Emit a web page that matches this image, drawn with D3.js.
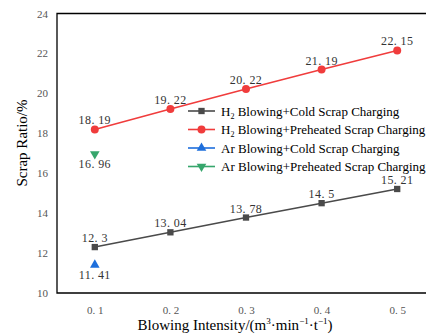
<!DOCTYPE html>
<html>
<head>
<meta charset="utf-8">
<script src="https://cdn.jsdelivr.net/npm/d3@7"></script>
<style>
  body { margin: 0; background: #fff; }
  svg { display: block; }
</style>
</head>
<body>
<div id="chart"></div>
<script>
// data
const intensity = [0.1, 0.2, 0.3, 0.4, 0.5];
const h2Cold = [12.3, 13.04, 13.78, 14.5, 15.21];
const h2Hot = [18.19, 19.22, 20.22, 21.19, 22.15];
const arCold = [11.41];
const arHot = [16.96];
const yTicks = [10, 12, 14, 16, 18, 20, 22, 24];
const xTickLabels = ["0. 1", "0. 2", "0. 3", "0. 4", "0. 5"];

const serif = "'Liberation Serif', 'DejaVu Serif', serif";
const width = 426, height = 336;

const svg = d3.select("#chart").append("svg")
  .attr("width", width)
  .attr("height", height)
  .attr("font-family", serif);

const x = d3.scaleLinear().domain([0.05, 0.55]).range([57, 435]);
const y = d3.scaleLinear().domain([10, 24]).range([293, 13.5]);

// frame: left, bottom, top (right side runs off the picture)
svg.append("path")
  .attr("d", `M${x(0.55)},${y(24)}H${x(0.05)}V${y(10)}H${x(0.55)}`)
  .attr("fill", "none")
  .attr("stroke", "#000")
  .attr("stroke-width", 1.3);

// y ticks
svg.append("g")
  .attr("transform", `translate(${x(0.05)},0)`)
  .call(d3.axisLeft(y).tickValues(yTicks).tickSize(0).tickPadding(9).tickFormat(d3.format("d")))
  .call(g => g.select(".domain").remove())
  .call(g => g.attr("font-family", serif).attr("font-size", 11))
  .call(g => g.selectAll("text").attr("fill", "#555"));

// x ticks
svg.append("g")
  .attr("transform", `translate(0,${y(10)})`)
  .call(d3.axisBottom(x).tickValues(intensity).tickSize(0).tickPadding(13)
    .tickFormat((d, i) => xTickLabels[i]))
  .call(g => g.select(".domain").remove())
  .call(g => g.attr("font-family", serif).attr("font-size", 11))
  .call(g => g.selectAll("text").attr("fill", "#555"));

// axis titles
svg.append("text")
  .attr("transform", `translate(27,143) rotate(-90)`)
  .attr("text-anchor", "middle")
  .attr("font-size", 15)
  .text("Scrap Ratio/%");

const xt = svg.append("text")
  .attr("x", 235)
  .attr("y", 330)
  .attr("text-anchor", "middle")
  .attr("font-size", 15);
xt.append("tspan").text("Blowing Intensity/(m");
xt.append("tspan").attr("dy", -6).attr("font-size", 9).text("3");
xt.append("tspan").attr("dy", 6).text("·min");
xt.append("tspan").attr("dy", -6).attr("font-size", 9).text("−1");
xt.append("tspan").attr("dy", 6).text("·t");
xt.append("tspan").attr("dy", -6).attr("font-size", 9).text("−1");
xt.append("tspan").attr("dy", 6).text(")");

const series = [
  { name: "Cold Scrap Charging", gas: "H", sub: "2", values: h2Cold, color: "#4a4a4a", symbol: d3.symbolSquare, size: 40, below: false },
  { name: "Preheated Scrap Charging", gas: "H", sub: "2", values: h2Hot, color: "#f03c3c", symbol: d3.symbolCircle, size: 50, below: false },
  { name: "Cold Scrap Charging", gas: "Ar", sub: "", values: arCold, color: "#1e6fdc", symbol: d3.symbolTriangle, size: 40, below: true },
  { name: "Preheated Scrap Charging", gas: "Ar", sub: "", values: arHot, color: "#36a66c", symbol: d3.symbolTriangle, size: 40, below: true, flip: true }
];

const line = d3.line()
  .x((d, i) => x(intensity[i]))
  .y(d => y(d));

series.forEach(s => {
  if (s.values.length > 1) {
    svg.append("path")
      .datum(s.values)
      .attr("d", line)
      .attr("fill", "none")
      .attr("stroke", s.color)
      .attr("stroke-width", 1.6);
  }
  svg.selectAll(null)
    .data(s.values)
    .enter()
    .append("path")
    .attr("d", d3.symbol().type(s.symbol).size(s.size))
    .attr("transform", (d, i) => `translate(${x(intensity[i])},${y(d)})${s.flip ? " rotate(180)" : ""}`)
    .attr("fill", s.color);

  svg.selectAll(null)
    .data(s.values)
    .enter()
    .append("text")
    .attr("x", (d, i) => x(intensity[i]))
    .attr("y", d => y(d) + (s.below ? 14 : -5))
    .attr("text-anchor", "middle")
    .attr("font-size", 12)
    .attr("letter-spacing", 0.4)
    .attr("fill", "#333")
    .text(d => String(d).replace(".", ". "));
});

// legend
const legend = svg.append("g").attr("transform", "translate(188,111)");
series.forEach((s, i) => {
  const g = legend.append("g").attr("transform", `translate(0,${i * 18.5})`);
  g.append("line")
    .attr("x1", 0).attr("x2", 27)
    .attr("stroke", s.color)
    .attr("stroke-width", 1.6);
  g.append("path")
    .attr("d", d3.symbol().type(s.symbol).size(s.size))
    .attr("transform", `translate(13.5,0)${s.flip ? " rotate(180)" : ""}`)
    .attr("fill", s.color);
  const t = g.append("text")
    .attr("x", 33)
    .attr("y", 4.5)
    .attr("font-size", 13);
  t.append("tspan").text(s.gas);
  if (s.sub) t.append("tspan").attr("dy", 3).attr("font-size", 8).text(s.sub);
  t.append("tspan").attr("dy", s.sub ? -3 : 0).text(" Blowing+" + s.name);
});
</script>
</body>
</html>
